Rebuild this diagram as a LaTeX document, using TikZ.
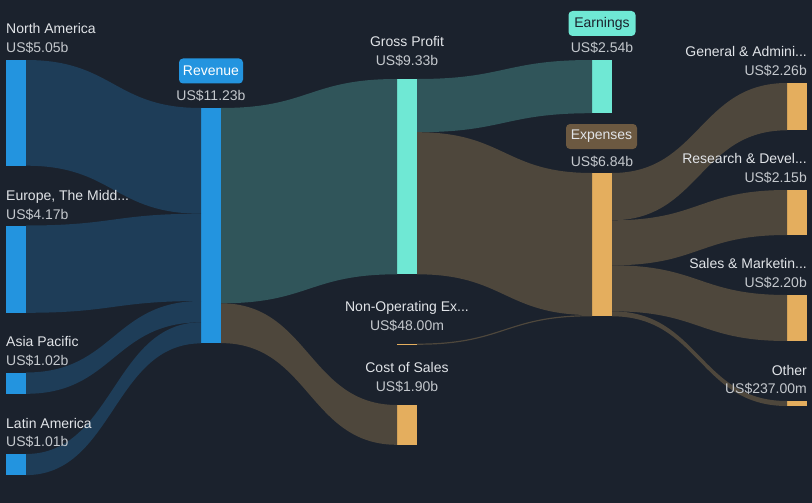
\documentclass[tikz,border=0pt]{standalone}
\usepackage{fontspec}
\setmainfont{Liberation Sans}
\usetikzlibrary{calc}
\usepackage{xcolor}
\definecolor{bg}{HTML}{1B222D}
\definecolor{barblue}{HTML}{2394DF}
\definecolor{flowblue}{HTML}{1E3D58}
\definecolor{barteal}{HTML}{6FE8D4}
\definecolor{flowteal}{HTML}{30555A}
\definecolor{barorange}{HTML}{E4AE5E}
\definecolor{flowbrown}{HTML}{4E473C}
\definecolor{tagbrown}{HTML}{6C5941}
\definecolor{txtname}{HTML}{E1E4E8}
\definecolor{txtvalue}{HTML}{C4C8CD}
% band from a bar to a bar: colour, source anchor, offset, target anchor, offset, width
\newcommand{\band}[6]{%
  \fill[#1] let \p1=([yshift=-#3pt]#2), \p2=([yshift=-#5pt]#4), \p3=($(\p1)!0.5!(\p2)$) in
    (\p1) .. controls (\x3,\y1) and (\x3,\y2) .. (\p2)
    -- (\x2,{\y2-#6pt}) .. controls (\x3,{\y2-#6pt}) and (\x3,{\y1-#6pt}) .. (\x1,{\y1-#6pt}) -- cycle;}

\begin{document}
\begin{tikzpicture}[x=1pt,y=-1pt]

		\tikzset{bar/.style = {shape=rectangle,anchor=north west,inner sep=0,outer sep=0,minimum width=20pt}}
		\tikzset{lbl/.style = {text=txtname,inner sep=0,font=\fontsize{14}{16}\selectfont}}
		\tikzset{amt/.style = {text=txtvalue,inner sep=0,font=\fontsize{14}{16}\selectfont}}
		\tikzset{tag/.style = {rounded corners=4pt,inner sep=0,minimum height=25pt,font=\fontsize{14}{16}\selectfont}}
		\fill[bg] (0,0) rectangle (812,503);
		\useasboundingbox (0,0) rectangle (812,503);
		%bars
		\node[bar,fill=barblue,minimum height=105.7pt] (na) at (6,60) {};
		\node[bar,fill=barblue,minimum height=87.3pt] (eu) at (6,225.5) {};
		\node[bar,fill=barblue,minimum height=21.3pt] (ap) at (6,372.5) {};
		\node[bar,fill=barblue,minimum height=21.1pt] (la) at (6,454) {};
		\node[bar,fill=barblue,minimum height=235.4pt] (rev) at (201,108) {};
		\node[bar,fill=barteal,minimum height=195.3pt] (gp) at (397,79) {};
		\node[bar,fill=barorange,minimum height=1.2pt] (nonop) at (397,343.6) {};
		\node[bar,fill=barorange,minimum height=39.8pt] (cos) at (397,405) {};
		\node[bar,fill=barteal,minimum height=53.2pt] (earn) at (592,60) {};
		\node[bar,fill=barorange,minimum height=143.3pt] (exp) at (592,173) {};
		\node[bar,fill=barorange,minimum height=47.3pt] (ga) at (787,83) {};
		\node[bar,fill=barorange,minimum height=45pt] (rd) at (787,190) {};
		\node[bar,fill=barorange,minimum height=46pt] (sm) at (787,295) {};
		\node[bar,fill=barorange,minimum height=5pt] (oth) at (787,401) {};
		%flows
		\band{flowblue}{na.north east}{0}{rev.north west}{0}{105.7}
		\band{flowblue}{eu.north east}{0}{rev.north west}{105.7}{87.3}
		\band{flowblue}{ap.north east}{0}{rev.north west}{193}{21.3}
		\band{flowblue}{la.north east}{0}{rev.north west}{214.3}{21.1}
		\band{flowteal}{rev.north east}{0}{gp.north west}{0}{195.3}
		\band{flowbrown}{rev.north east}{195.3}{cos.north west}{0}{39.8}
		\band{flowteal}{gp.north east}{0}{earn.north west}{0}{53.2}
		\band{flowbrown}{gp.north east}{53.2}{exp.north west}{0}{142.1}
		\band{flowbrown}{nonop.north east}{0}{exp.north west}{142.1}{1.2}
		\band{flowbrown}{exp.north east}{0}{ga.north west}{0}{47.3}
		\band{flowbrown}{exp.north east}{47.3}{rd.north west}{0}{45}
		\band{flowbrown}{exp.north east}{92.3}{sm.north west}{0}{46}
		\band{flowbrown}{exp.north east}{138.3}{oth.north west}{0}{5}
		%labels
		\node[lbl,anchor=base west] (na-l) at (6,34) {North America};
		\node[amt,anchor=base west] (na-v) at (6,52.5) {US\$5.05b};
		\node[lbl,anchor=base west] (eu-l) at (6,200) {Europe, The Midd...};
		\node[amt,anchor=base west] (eu-v) at (6,219) {US\$4.17b};
		\node[lbl,anchor=base west] (ap-l) at (6,346.5) {Asia Pacific};
		\node[amt,anchor=base west] (ap-v) at (6,365) {US\$1.02b};
		\node[lbl,anchor=base west] (la-l) at (6,428) {Latin America};
		\node[amt,anchor=base west] (la-v) at (6,446.5) {US\$1.01b};
		\node[tag,fill=barblue,text=white,minimum width=64pt] (rev-l) at (211,71) {Revenue};
		\node[amt,anchor=base] (rev-v) at (211,100) {US\$11.23b};
		\node[lbl,anchor=base] (gp-l) at (407,47) {Gross Profit};
		\node[amt,anchor=base] (gp-v) at (407,65.5) {US\$9.33b};
		\node[tag,fill=barteal,text=bg,minimum width=67pt] (earn-l) at (602,23.5) {Earnings};
		\node[amt,anchor=base] (earn-v) at (602,53) {US\$2.54b};
		\node[tag,fill=tagbrown,text=txtname,minimum width=71pt] (exp-l) at (601.5,136.5) {Expenses};
		\node[amt,anchor=base] (exp-v) at (602,166) {US\$6.84b};
		\node[lbl,anchor=base] (nonop-l) at (407,311.5) {Non-Operating Ex...};
		\node[amt,anchor=base] (nonop-v) at (407,330.5) {US\$48.00m};
		\node[lbl,anchor=base] (cos-l) at (407,372.5) {Cost of Sales};
		\node[amt,anchor=base] (cos-v) at (407,391.5) {US\$1.90b};
		\node[lbl,anchor=base east] (ga-l) at (807,56.5) {General \& Admini...};
		\node[amt,anchor=base east] (ga-v) at (807,75.5) {US\$2.26b};
		\node[lbl,anchor=base east] (rd-l) at (807,163.5) {Research \& Devel...};
		\node[amt,anchor=base east] (rd-v) at (807,182.5) {US\$2.15b};
		\node[lbl,anchor=base east] (sm-l) at (807,268.5) {Sales \& Marketin...};
		\node[amt,anchor=base east] (sm-v) at (807,287) {US\$2.20b};
		\node[lbl,anchor=base east] (oth-l) at (807,375) {Other};
		\node[amt,anchor=base east] (oth-v) at (807,393.5) {US\$237.00m};
\end{tikzpicture}
\end{document}
